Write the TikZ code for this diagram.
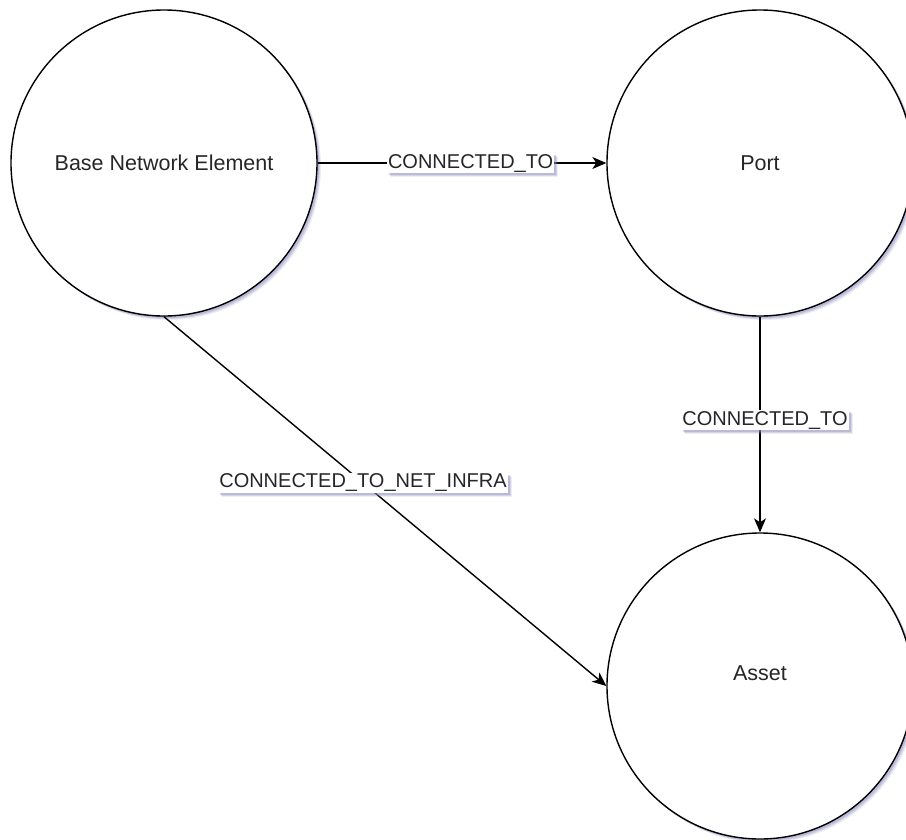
\documentclass[tikz,border=0pt]{standalone}
\usepackage{fontspec}
\setmainfont{Liberation Sans}
\usetikzlibrary{arrows.meta,shadows}
\definecolor{shadowtint}{RGB}{140,140,190}
\tikzset{
  soft shadow/.style={
    drop shadow={shadow xshift=4pt, shadow yshift=-4pt, fill=shadowtint, opacity=0.15},
    drop shadow={shadow xshift=3pt, shadow yshift=-3pt, fill=shadowtint, opacity=0.25},
    drop shadow={shadow xshift=2pt, shadow yshift=-2pt, fill=shadowtint, opacity=0.35}},
  entity/.style={circle, draw=black, line width=1.4pt, fill=white,
    minimum size=306pt, inner sep=0pt, font=\fontsize{21.5}{24}\selectfont,
    text=black!85, soft shadow},
  rel/.style={line width=1.4pt, draw=black,
    -{Stealth[length=14pt, width=12pt, inset=4pt]}},
  tag/.style={fill=white, inner sep=1.2pt, font=\fontsize{20}{22}\selectfont,
    text=black!85, soft shadow}
}
\begin{document}
\begin{tikzpicture}[x=1pt, y=-1pt]
  \useasboundingbox (0,0) rectangle (906,839);
  \clip (0,0) rectangle (906,839);
  \fill[white] (0,0) rectangle (906,839);

  % entities
  \node[entity] (bne) at (164,163) {Base Network Element};
  \node[entity] (port) at (760,163) {Port};
  \node[entity] (asset) at (760,686) {};
  \node[font=\fontsize{21.5}{24}\selectfont, text=black!85] (assettext) at (760,673) {Asset};

  % relationships
  \draw[rel] (bne) -- node[tag, pos=0.53] (l1) {CONNECTED\_TO} (port);
  \draw[rel] (port.south) -- node[tag, pos=0.48, xshift=5pt] (l2) {CONNECTED\_TO} (asset.north);
  \draw[rel] (bne.south) -- node[tag, pos=0.45] (l3) {CONNECTED\_TO\_NET\_INFRA} (asset.west);
\end{tikzpicture}
\end{document}
